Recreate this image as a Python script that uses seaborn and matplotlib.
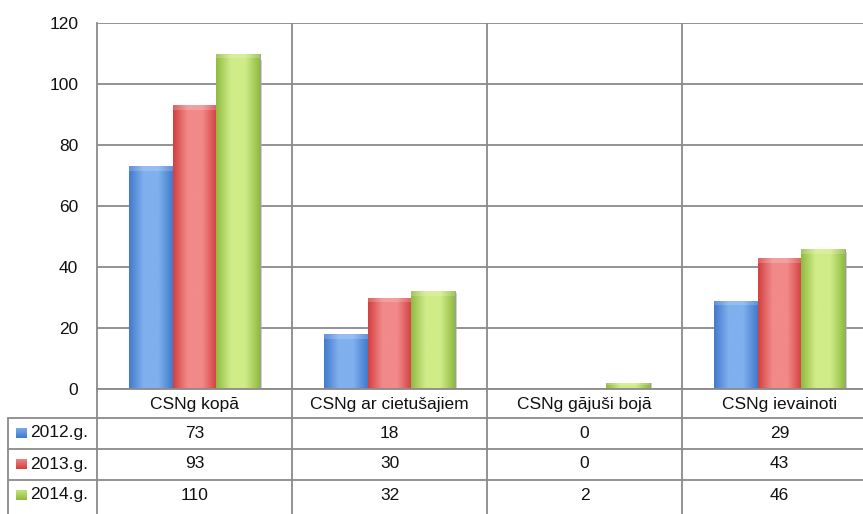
import numpy as np
import pandas as pd
import matplotlib
matplotlib.use("Agg")
import matplotlib.pyplot as plt
import matplotlib.transforms as mtransforms
from matplotlib.colors import LinearSegmentedColormap
from matplotlib.patches import Rectangle
from matplotlib.lines import Line2D
import seaborn as sns

categories = ["CSNg kopā", "CSNg ar cietušajiem", "CSNg gājuši bojā", "CSNg ievainoti"]
years = ["2012.g.", "2013.g.", "2014.g."]
values_2012 = [73, 18, 0, 29]
values_2013 = [93, 30, 0, 43]
values_2014 = [110, 32, 2, 46]
y_ticks = [0, 20, 40, 60, 80, 100, 120]

# (dark edge, light centre) tones per series
shades = {
    "2012.g.": ("#4179cc", "#80b0ee"),
    "2013.g.": ("#d23f3f", "#f28a8a"),
    "2014.g.": ("#8fba40", "#cfec88"),
}

df = pd.DataFrame({
    "category": categories * 3,
    "year": [y for y in years for _ in categories],
    "value": values_2012 + values_2013 + values_2014,
})

sns.set_theme(style="white")
plt.rcParams["font.family"] = ["Liberation Sans Narrow", "Liberation Sans", "DejaVu Sans"]

W, H = 863, 514
fig = plt.figure(figsize=(W / 100, H / 100), dpi=100)
fig.patch.set_facecolor("white")

def fx(px):
    return px / W

def fy(py):
    return 1 - py / H

# plot area: left edge at 97 px, category width 195 px (last one runs past the edge)
ax = fig.add_axes([fx(97), fy(389), fx(780), fy(23) - fy(389)])
ax.set_facecolor("white")

sns.barplot(data=df, x="category", y="value", hue="year", order=categories,
            hue_order=years, palette=[shades[y][0] for y in years],
            width=0.67, ax=ax, legend=False, saturation=1, zorder=3)

fs = 12.5
ax.set_xlim(-0.5, 3.5)
ax.set_ylim(0, 120)
ax.set_yticks(y_ticks)
ax.set_yticklabels([str(t) for t in y_ticks], fontsize=fs, color="#111111")
ax.tick_params(axis="y", length=0, pad=13.5)
ax.set_xticks([])
ax.set_xlabel("")
ax.set_ylabel("")

grid_c = "#8a8a8a"
lw = 1.3
for t in y_ticks:
    ax.axhline(t, color=grid_c, lw=lw, zorder=1)
for b in [0.5, 1.5, 2.5]:
    ax.axvline(b, color=grid_c, lw=lw, zorder=1)
for s in ["top", "right", "bottom"]:
    ax.spines[s].set_visible(False)
ax.spines["left"].set_color(grid_c)
ax.spines["left"].set_linewidth(lw)

# glossy horizontal gradient on each bar
def gradient_cmap(dark, light):
    return LinearSegmentedColormap.from_list("g", [dark, light, light, dark], N=256)

grad = np.linspace(0, 1, 256).reshape(1, -1)
for cont, yr in zip(ax.containers, years):
    cmap = gradient_cmap(*shades[yr])
    for patch in cont.patches:
        x0, y0 = patch.get_x(), patch.get_y()
        w, h = patch.get_width(), patch.get_height()
        if h <= 0:
            continue
        im = ax.imshow(grad, cmap=cmap, aspect="auto",
                       extent=[x0, x0 + w, y0, y0 + h], zorder=4, interpolation="bicubic")
        im.set_clip_path(patch)
        patch.set_edgecolor("#9a9a9a")
        patch.set_linewidth(0.6)
        # drop shadow on the right side
        ax.add_patch(Rectangle((x0 + w, y0), 0.012, h * 0.98, color="#b0b0b0",
                               alpha=0.6, zorder=2, lw=0))
        # soft bevel at the top
        bh = min(1.6, h * 0.3)
        ax.add_patch(Rectangle((x0, y0 + h - bh), w, bh,
                               color="white", alpha=0.18, zorder=5, lw=0))
ax.set_xlim(-0.5, 3.5)
ax.set_ylim(0, 120)

# data table below the plot
bt = mtransforms.blended_transform_factory(ax.transData, fig.transFigure)

def hline(x0_px, y_px):
    fig.add_artist(Line2D([fx(x0_px), 1.0], [fy(y_px), fy(y_px)], color=grid_c, lw=lw))

for yp in [418, 449, 480]:
    hline(8, yp)
hline(97, 389)
# vertical separators
fig.add_artist(Line2D([fx(8), fx(8)], [fy(418), 0], color=grid_c, lw=lw))
fig.add_artist(Line2D([fx(97), fx(97)], [fy(389), 0], color=grid_c, lw=lw))
for b in [0.5, 1.5, 2.5]:
    fig.add_artist(Line2D([b, b], [fy(389), 0], color=grid_c, lw=lw, transform=bt))

for i, c in enumerate(categories):
    fig.text(i, fy(404), c, transform=bt, ha="center", va="center", fontsize=fs, color="#111111")

series = [values_2012, values_2013, values_2014]
row_centres = [433, 464, 495]
for yr, vals, yc in zip(years, series, row_centres):
    dark, light = shades[yr]
    sw = fig.add_axes([fx(16), fy(yc + 5.5), fx(11), fy(yc - 5.5) - fy(yc + 5.5)])
    sw.imshow(np.linspace(1, 0, 64).reshape(-1, 1),
              cmap=LinearSegmentedColormap.from_list("s", [dark, light]), aspect="auto")
    sw.set_axis_off()
    fig.text(fx(30), fy(yc), yr, ha="left", va="center", fontsize=fs, color="#111111")
    for i, v in enumerate(vals):
        fig.text(i, fy(yc), str(v), transform=bt, ha="center", va="center", fontsize=fs, color="#111111")

fig.savefig("out.png", dpi=100, facecolor="white")
